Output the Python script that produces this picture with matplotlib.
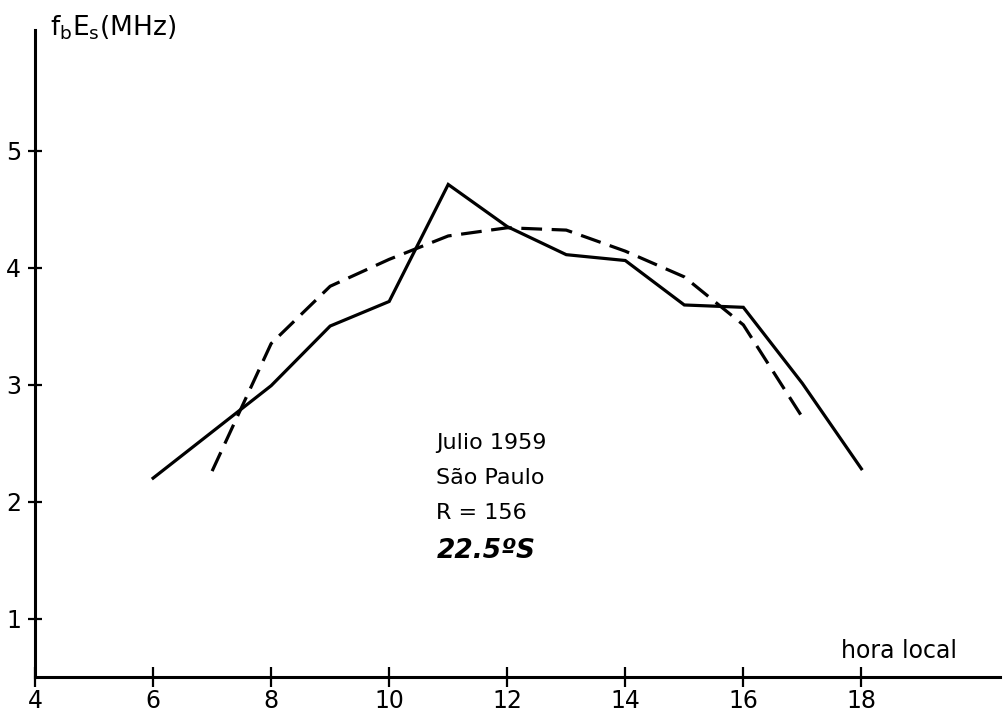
import numpy as np
import matplotlib.pyplot as plt

plt.rcParams['font.family'] = ['Liberation Sans Narrow', 'DejaVu Sans']

# fbEs hourly medians, Sao Paulo, July 1959
hora_obs = [6, 8, 9, 10, 11, 12, 13, 14, 15, 16, 17, 18]
fbes_obs = [2.20, 2.99, 3.50, 3.71, 4.71, 4.35, 4.11, 4.06, 3.68, 3.66, 3.01, 2.28]

hora_mod = [7, 8, 9, 10, 11, 12, 13, 14, 15, 16, 17]
fbes_mod = [2.26, 3.35, 3.84, 4.07, 4.27, 4.34, 4.32, 4.14, 3.92, 3.51, 2.72]

xticks = [4, 6, 8, 10, 12, 14, 16, 18]
yticks = [1, 2, 3, 4, 5]

fig = plt.figure(figsize=(10.04, 7.22), dpi=100)
ax = fig.add_axes([0.0349, 0.0623, 0.9612, 0.8961])

ax.plot(hora_obs, fbes_obs, color='black', lw=2.3, solid_joinstyle='miter')
ax.plot(hora_mod, fbes_mod, color='black', lw=2.3, dashes=(6.5, 3))

ax.set_xlim(4, 20.35)
ax.set_ylim(0.5, 6.03)

for s in ['top', 'right']:
    ax.spines[s].set_visible(False)
for s in ['left', 'bottom']:
    ax.spines[s].set_linewidth(2.2)

ax.set_xticks(xticks)
ax.set_yticks(yticks)
ax.tick_params(axis='x', direction='inout', length=15, width=1.6, labelsize=17, pad=1)
ax.tick_params(axis='y', direction='inout', length=10, width=1.6, labelsize=17, pad=5)

ax.text(4.25, 6.05, r'$\mathregular{f_bE_s}$(MHz)', fontsize=19, va='center', ha='left')
ax.text(17.65, 0.62, 'hora local', fontsize=17, ha='left', va='bottom')

ax.text(10.8, 2.5, 'Julio 1959', fontsize=16, va='center')
ax.text(10.8, 2.2, 'São Paulo', fontsize=16, va='center')
ax.text(10.8, 1.9, 'R = 156', fontsize=16, va='center')
ax.text(10.8, 1.58, '22.5ºS', fontsize=19, va='center', fontweight='bold', fontstyle='italic')

fig.savefig('out.png', dpi=100)
